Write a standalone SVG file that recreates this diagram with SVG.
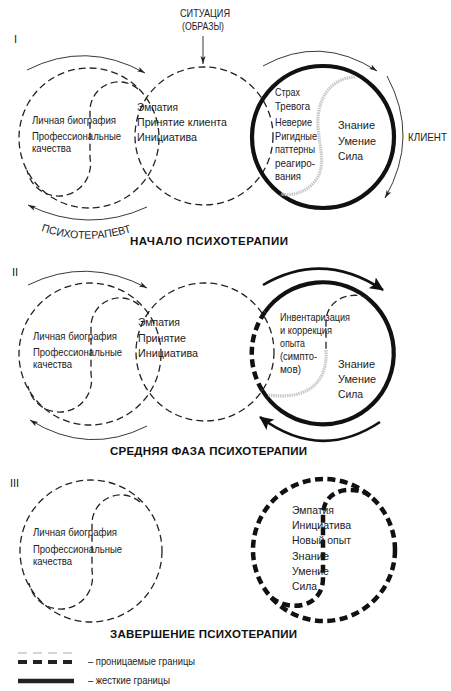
<svg xmlns="http://www.w3.org/2000/svg" width="451" height="691" viewBox="0 0 451 691">
<style>
.thin{fill:none;stroke:#222;stroke-width:1.3;stroke-dasharray:7 4}
.thick{fill:none;stroke:#111;stroke-width:4.2}
.tdash{fill:none;stroke:#111;stroke-width:4.5;stroke-dasharray:8 4.5}
.gray{fill:none;stroke:#c8c8c8;stroke-width:3.2;stroke-dasharray:1.5 0.8}
.arr{fill:none;stroke:#222;stroke-width:0.9;marker-end:url(#ah)}
.arrb{fill:none;stroke:#111;stroke-width:2.6;marker-end:url(#ahb)}
text{font-family:"Liberation Sans",Arial,sans-serif;font-size:11px;fill:#222}
.n{font-family:"Liberation Sans Narrow","Arial Narrow","Liberation Sans",sans-serif;font-size:11px}
.b{font-weight:bold;font-size:11.5px;fill:#111}
</style>
<defs>
<marker id="ah" markerUnits="userSpaceOnUse" markerWidth="9" markerHeight="6" refX="8" refY="3" orient="auto"><path d="M0,0.5 L8,3 L0,5.5 L2,3 z" fill="#222"/></marker>
<marker id="ahb" markerUnits="userSpaceOnUse" markerWidth="16" markerHeight="13" refX="13" refY="6.5" orient="auto"><path d="M0,0 L14,6.5 L0,13 L3,6.5 z" fill="#111"/></marker>
<path id="ptp" d="M 41 231 Q 88 247 137 230"/>
</defs>

<!-- SECTION I -->
<g id="section1">
<text x="14" y="43" font-size="12">I</text>
<g id="situation">
<text class="n" x="180" y="17" textLength="50" lengthAdjust="spacingAndGlyphs">СИТУАЦИЯ</text>
<text class="n" x="182" y="30" textLength="42" lengthAdjust="spacingAndGlyphs">(ОБРАЗЫ)</text>
</g>
<g id="therapist1">
<circle class="thin" cx="89" cy="138" r="70"/>
<path class="thin" d="M 138 89 A 29 29 0 0 0 90 112 L 90 158 A 32 32 0 0 1 27 170"/>
<text x="32" y="124" textLength="84" lengthAdjust="spacingAndGlyphs">Личная биография</text>
<text x="32" y="140" textLength="89" lengthAdjust="spacingAndGlyphs">Профессиональные</text>
<text x="32" y="152" textLength="39" lengthAdjust="spacingAndGlyphs">качества</text>
</g>
<g id="middle1">
<circle class="thin" cx="204" cy="136" r="69"/>
<text x="137" y="111" textLength="41" lengthAdjust="spacingAndGlyphs">Эмпатия</text>
<text x="137" y="126" textLength="90" lengthAdjust="spacingAndGlyphs">Принятие клиента</text>
<text x="137" y="141" textLength="60" lengthAdjust="spacingAndGlyphs">Инициатива</text>
</g>
<g id="client1">
<circle class="thick" cx="323" cy="137" r="71"/>
<path class="gray" d="M 355 77 C 330 78 316 100 318 128 C 320 150 326 165 316 180 C 306 193 292 196 281 194"/>
<text class="n" x="275" y="96" textLength="25" lengthAdjust="spacingAndGlyphs">Страх</text>
<text class="n" x="275" y="110" textLength="35" lengthAdjust="spacingAndGlyphs">Тревога</text>
<text class="n" x="275" y="126" textLength="37" lengthAdjust="spacingAndGlyphs">Неверие</text>
<text class="n" x="275" y="140" textLength="42" lengthAdjust="spacingAndGlyphs">Ригидные</text>
<text class="n" x="275" y="153" textLength="40" lengthAdjust="spacingAndGlyphs">паттерны</text>
<text class="n" x="275" y="167" textLength="40" lengthAdjust="spacingAndGlyphs">реагиро-</text>
<text class="n" x="275" y="180" textLength="26" lengthAdjust="spacingAndGlyphs">вания</text>
<text x="338" y="129" textLength="37" lengthAdjust="spacingAndGlyphs">Знание</text>
<text x="338" y="145" textLength="38" lengthAdjust="spacingAndGlyphs">Умение</text>
<text x="338" y="160" textLength="25" lengthAdjust="spacingAndGlyphs">Сила</text>
<text class="n" x="408" y="141" textLength="39" lengthAdjust="spacingAndGlyphs">КЛИЕНТ</text>
</g>
<text font-size="10"><textPath href="#ptp" textLength="92" lengthAdjust="spacingAndGlyphs">ПСИХОТЕРАПЕВТ</textPath></text>
<text class="b" x="130" y="245" textLength="158" lengthAdjust="spacing">НАЧАЛО ПСИХОТЕРАПИИ</text>
</g>

<!-- SECTION II -->
<g id="section2">
<text x="12" y="276" font-size="12">II</text>
<g id="therapist2">
<circle class="thin" cx="90" cy="354" r="71"/>
<path class="thin" d="M 139 305 A 29 29 0 0 0 91 328 L 91 374 A 32 32 0 0 1 28 386"/>
<text x="33" y="340" textLength="84" lengthAdjust="spacingAndGlyphs">Личная биография</text>
<text x="33" y="356" textLength="89" lengthAdjust="spacingAndGlyphs">Профессиональные</text>
<text x="33" y="368" textLength="39" lengthAdjust="spacingAndGlyphs">качества</text>
</g>
<g id="middle2">
<circle class="thin" cx="205" cy="352" r="69"/>
<text x="138" y="326" textLength="42" lengthAdjust="spacingAndGlyphs">Эмпатия</text>
<text x="138" y="342" textLength="48" lengthAdjust="spacingAndGlyphs">Принятие</text>
<text x="138" y="357" textLength="60" lengthAdjust="spacingAndGlyphs">Инициатива</text>
</g>
<g id="client2">
<path class="thick" d="M 265 312 A 71 71 0 1 1 262 390"/>
<path class="tdash" d="M 265 312 A 71 71 0 0 0 262 390"/>
<path class="thin" d="M 368 298 C 350 290 326 300 326 322 L 326 350"/>
<path class="gray" d="M 326 350 C 328 385 305 400 268 395"/>
<text class="n" x="280" y="321" textLength="70" lengthAdjust="spacingAndGlyphs">Инвентаризация</text>
<text class="n" x="280" y="334" textLength="52" lengthAdjust="spacingAndGlyphs">и коррекция</text>
<text class="n" x="280" y="347" textLength="25" lengthAdjust="spacingAndGlyphs">опыта</text>
<text class="n" x="280" y="360" textLength="37" lengthAdjust="spacingAndGlyphs">(симпто-</text>
<text class="n" x="280" y="373" textLength="21" lengthAdjust="spacingAndGlyphs">мов)</text>
<text x="338" y="368" textLength="37" lengthAdjust="spacingAndGlyphs">Знание</text>
<text x="338" y="383" textLength="38" lengthAdjust="spacingAndGlyphs">Умение</text>
<text x="338" y="398" textLength="25" lengthAdjust="spacingAndGlyphs">Сила</text>
</g>
<text class="b" x="110" y="455" textLength="197" lengthAdjust="spacing">СРЕДНЯЯ ФАЗА ПСИХОТЕРАПИИ</text>
</g>

<!-- SECTION III -->
<g id="section3">
<text x="10" y="487" font-size="12">III</text>
<g id="therapist3">
<circle class="thin" cx="91" cy="551" r="71"/>
<path class="thin" d="M 140 502 A 29 29 0 0 0 92 525 L 92 571 A 32 32 0 0 1 29 583"/>
<text x="33" y="536" textLength="84" lengthAdjust="spacingAndGlyphs">Личная биография</text>
<text x="33" y="553" textLength="89" lengthAdjust="spacingAndGlyphs">Профессиональные</text>
<text x="33" y="565" textLength="39" lengthAdjust="spacingAndGlyphs">качества</text>
</g>
<g id="client3">
<circle class="tdash" cx="324" cy="550" r="71"/>
<path class="tdash" d="M 370 496 C 360 487 323 484 323 516 L 323 578 C 323 610 285 612 270 596"/>
<text x="292" y="514" fill="#333" textLength="42" lengthAdjust="spacingAndGlyphs">Эмпатия</text>
<text x="292" y="529" fill="#333" textLength="59" lengthAdjust="spacingAndGlyphs">Инициатива</text>
<text x="292" y="544" fill="#333" textLength="59" lengthAdjust="spacingAndGlyphs">Новый опыт</text>
<text x="292" y="560" fill="#333" textLength="37" lengthAdjust="spacingAndGlyphs">Знание</text>
<text x="292" y="575" fill="#333" textLength="37" lengthAdjust="spacingAndGlyphs">Умение</text>
<text x="292" y="590" fill="#333" textLength="25" lengthAdjust="spacingAndGlyphs">Сила</text>
</g>
<text class="b" x="110" y="638" textLength="187" lengthAdjust="spacing">ЗАВЕРШЕНИЕ ПСИХОТЕРАПИИ</text>
</g>

<!-- CONNECTORS -->
<g id="connectors">
<path class="arr" d="M 203 36 L 203 64"/>
<path class="arr" d="M 27 70 Q 86 40 145 73"/>
<path class="arr" d="M 147 207 Q 88 234 28 205"/>
<path class="arr" d="M 263 66 Q 320 34 377 71"/>
<path class="arr" d="M 387 76 Q 420 137 385 198"/>
<path class="arr" d="M 28 285 Q 87 256 147 288"/>
<path class="arr" d="M 147 426 Q 88 456 30 420"/>
<path class="arrb" d="M 263 285 Q 323 250 383 290"/>
<path class="arrb" d="M 380 422 Q 320 462 260 417"/>
</g>

<!-- LEGEND -->
<g id="legend">
<path d="M 18 653 L 73 653" fill="none" stroke="#aaa" stroke-width="1" stroke-dasharray="9 6"/>
<path d="M 18 662 L 73 662" fill="none" stroke="#222" stroke-width="4" stroke-dasharray="9 6"/>
<text class="n" x="88" y="665" font-size="10.5" textLength="107" lengthAdjust="spacingAndGlyphs">– проницаемые границы</text>
<path d="M 18 681 L 74 681" fill="none" stroke="#222" stroke-width="4.5"/>
<text class="n" x="88" y="684" font-size="10.5" textLength="82" lengthAdjust="spacingAndGlyphs">– жесткие границы</text>
</g>
</svg>
